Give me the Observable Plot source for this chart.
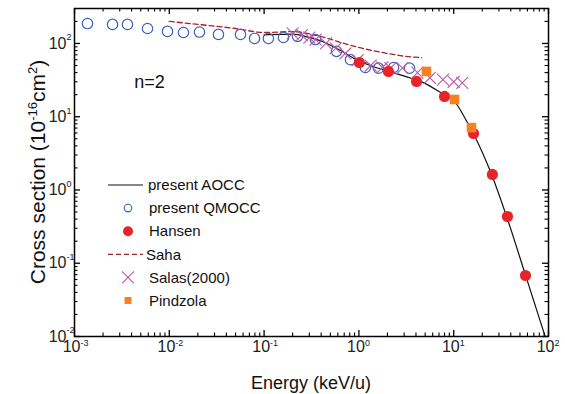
<!DOCTYPE html>
<html><head><meta charset="utf-8">
<script src="https://cdn.jsdelivr.net/npm/d3@7"></script>
<script src="https://cdn.jsdelivr.net/npm/@observablehq/plot@0.6"></script>
<style>
body{margin:0;background:#fff;font-family:"Liberation Sans",Arial,sans-serif;}
#wrap{position:relative;width:565px;height:394px;}
</style></head><body><div id="wrap"></div>
<script>
// ---- data (energy keV/u, cross section 1e-16 cm^2) ----
const aoccE = [0.1,0.15,0.2,0.29,0.43,0.64,0.96,1.44,2.15,3.2,4.85,7.9,10,13.9,16,25,36,57,100];
const aoccS = [131,133,134,122,104,80,59,48,41,35,29,20,16.7,8.4,6,1.65,0.44,0.07,0.0072];
const qmoccE = [0.00137,0.00252,0.00362,0.00589,0.00957,0.0141,0.0208,0.033,0.0564,0.0793,0.111,0.16,0.225,0.348,0.58,0.815,1.17,1.61,2.32,3.42];
const qmoccS = [187,182,182,160,146,141,143,133,133,117,117,121,125,113,78,60,47,46,47,46];
const hansenE = [1.01,2.05,4.06,8.0,16.2,25.6,36.9,57.2];
const hansenS = [55,41.5,30.3,18.9,5.9,1.63,0.434,0.068];
const sahaE = [0.01,0.02,0.05,0.1,0.2,0.3,0.42,0.7,0.97,2.15,3,4.6];
const sahaS = [200,182,160,141,145,135,122,100,89,72,67,64];
const salasE = [0.2,0.25,0.3,0.35,0.45,0.57,0.72,0.97,1.33,1.77,2.15,2.88,4.15,5.6,7.7,10,12.3];
const salasS = [137,130,120,113,100,86,73,59,50,47,46,46,40,34,32,30,29];
const pindzolaE = [5.16,10.2,15.4];
const pindzolaS = [41.5,17.2,7.1];
const xTickExp = [-3,-2,-1,0,1,2];
const yTickExp = [-2,-1,0,1,2];
const legendLabels = ["present AOCC","present QMOCC","Hansen","Saha","Salas(2000)","Pindzola"];
const annotation = "n=2";
const xTitle = "Energy (keV/u)";

const zip = (E, S) => E.map((e, i) => ({e, s: S[i]}));
const aocc = zip(aoccE, aoccS), qmocc = zip(qmoccE, qmoccS), hansen = zip(hansenE, hansenS),
      saha = zip(sahaE, sahaS), salas = zip(salasE, salasS), pindzola = zip(pindzolaE, pindzolaS);

const W = 565, H = 394, mL = 74, mR = 17, mT = 8, mB = 58;
const PW = W - mL - mR, PH = H - mT - mB;
const xMajor = xTickExp.map(e => 10 ** e);
const yMajor = yTickExp.map(e => 10 ** e);
const xMinor = xMajor.slice(0, -1).flatMap(d => [2,3,4,5,6,7,8,9].map(k => d * k));
const yMinor = yMajor.flatMap(d => [2,3,4,5,6,7,8,9].map(k => d * k)).filter(v => v < 300);

const cBlue = "#3f62b6", cRed = "#e8232a", cOrange = "#f5821f", cPurple = "#bb5ba9", cSaha = "#a3232b";
const font = "Liberation Sans, Arial, sans-serif";

const chart = Plot.plot({
  width: W, height: H, marginLeft: mL, marginRight: mR, marginTop: mT, marginBottom: mB,
  style: {fontFamily: font, background: "#fff", color: "#000"},
  x: {type: "log", domain: [1e-3, 1e2], axis: null},
  y: {type: "log", domain: [1e-2, 300], axis: null},
  marks: [
    // ticks (inward, all four sides)
    Plot.tickX(xMajor, {x: d => d, insetTop: PH - 6, stroke: "#000", strokeWidth: 1.3}),
    Plot.tickX(xMajor, {x: d => d, insetBottom: PH - 6, stroke: "#000", strokeWidth: 1.3}),
    Plot.tickX(xMinor, {x: d => d, insetTop: PH - 3.5, stroke: "#000", strokeWidth: 1.1}),
    Plot.tickX(xMinor, {x: d => d, insetBottom: PH - 3.5, stroke: "#000", strokeWidth: 1.1}),
    Plot.tickY(yMajor, {y: d => d, insetRight: PW - 6, stroke: "#000", strokeWidth: 1.3}),
    Plot.tickY(yMajor, {y: d => d, insetLeft: PW - 6, stroke: "#000", strokeWidth: 1.3}),
    Plot.tickY(yMinor, {y: d => d, insetRight: PW - 3.5, stroke: "#000", strokeWidth: 1.1}),
    Plot.tickY(yMinor, {y: d => d, insetLeft: PW - 3.5, stroke: "#000", strokeWidth: 1.1}),
    // tick labels 10^n
    Plot.text(xMajor, {x: d => d, frameAnchor: "bottom", text: () => "10", textAnchor: "end", dx: 6, dy: 15, fontSize: 16, fill: "#222"}),
    Plot.text(xTickExp, {x: e => 10 ** e, frameAnchor: "bottom", text: e => String(e), textAnchor: "start", dx: 6, dy: 9, fontSize: 9, fill: "#222"}),
    Plot.text(yMajor, {y: d => d, frameAnchor: "left", text: () => "10", textAnchor: "end", dx: -8, dy: 0, fontSize: 16, fill: "#222"}),
    Plot.text(yTickExp, {y: e => 10 ** e, frameAnchor: "left", text: e => String(e), textAnchor: "start", dx: -8, dy: -6, fontSize: 9, fill: "#222"}),
    // series
    Plot.line(saha, {x: "e", y: "s", stroke: cSaha, strokeWidth: 1.3, strokeDasharray: "5,3", curve: "monotone-x"}),
    Plot.line(aocc, {x: "e", y: "s", stroke: "#111", strokeWidth: 1.2, curve: "monotone-x", clip: true}),
    Plot.dot(qmocc, {x: "e", y: "s", r: 5.2, stroke: cBlue, strokeWidth: 1.2, fill: "none"}),
    Plot.dot(salas, {x: "e", y: "s", symbol: "times", r: 5.5, stroke: cPurple, strokeWidth: 1.1}),
    Plot.dot(hansen, {x: "e", y: "s", r: 5.6, fill: cRed, stroke: "none"}),
    Plot.dot(pindzola, {x: "e", y: "s", symbol: "square", r: 5.4, fill: cOrange, stroke: "none"}),
    Plot.text([annotation], {frameAnchor: "top-left", dx: 75, dy: 67, textAnchor: "middle", fontSize: 18, fill: "#111"}),
    Plot.frame({stroke: "#000", strokeWidth: 1.5})
  ]
});
document.getElementById("wrap").appendChild(chart);

// titles and legend
const svg = d3.select(chart);
svg.append("text").attr("x", mL + PW / 2).attr("y", 389).attr("text-anchor", "middle")
  .attr("font-size", 18).attr("font-family", font).attr("fill", "#111").text(xTitle);
const yt = svg.append("text").attr("transform", `translate(45,${mT + PH / 2}) rotate(-90)`)
  .attr("text-anchor", "middle").attr("font-size", 21).attr("font-family", font).attr("fill", "#111");
yt.append("tspan").text("Cross section (10");
yt.append("tspan").attr("font-size", 13).attr("dy", -8).text("-16");
yt.append("tspan").attr("dy", 8).text("cm");
yt.append("tspan").attr("font-size", 13).attr("dy", -8).text("2");
yt.append("tspan").attr("dy", 8).text(")");

const leg = svg.append("g").attr("font-family", font).attr("font-size", 15).attr("fill", "#111").attr("text-anchor", "start");
legendLabels.forEach((lab, i) => {
  const y = 185 + i * 23.1;
  const g = leg.append("g").attr("transform", `translate(0,${y})`);
  if (i === 0) g.append("line").attr("x1", 108).attr("x2", 143).attr("stroke", "#111").attr("stroke-width", 1.2);
  if (i === 1) g.append("circle").attr("cx", 128).attr("r", 3.8).attr("fill", "none").attr("stroke", cBlue).attr("stroke-width", 1.1);
  if (i === 2) g.append("circle").attr("cx", 128).attr("r", 5).attr("fill", cRed);
  if (i === 3) g.append("line").attr("x1", 108).attr("x2", 143).attr("stroke", cSaha).attr("stroke-width", 1.3).attr("stroke-dasharray", "5,3");
  if (i === 4) g.append("path").attr("d", "M122,-6L134,6M122,6L134,-6").attr("stroke", cPurple).attr("stroke-width", 1.1);
  if (i === 5) g.append("rect").attr("x", 124.5).attr("y", -3.5).attr("width", 7).attr("height", 7).attr("fill", cOrange);
  g.append("text").attr("x", i === 0 ? 148 : (i === 3 ? 146 : 149)).attr("dy", "0.35em").attr("text-anchor", "start").text(lab);
});
</script>
</body></html>
